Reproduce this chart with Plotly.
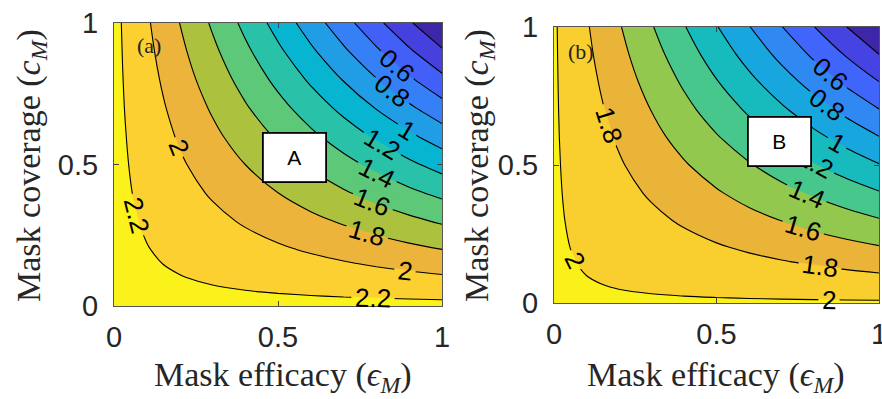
import math
import plotly.graph_objects as go

# Grid (mask efficacy eps_M on x, mask coverage c_M on y)
eps_grid = [0, 0.05, 0.1, 0.15, 0.2, 0.3, 0.4, 0.5, 0.6, 0.7, 0.8, 0.9, 1.0]
cov_grid = [0, 0.05, 0.1, 0.15, 0.2, 0.3, 0.4, 0.5, 0.6, 0.7, 0.8, 0.9, 1.0]

# Panel (a) values, rows = coverage, columns = efficacy
z_a = [
    [2.25, 2.25, 2.25, 2.25, 2.25, 2.25, 2.25, 2.25, 2.25, 2.25, 2.25, 2.25, 2.25],
    [2.25, 2.244, 2.239, 2.233, 2.228, 2.216, 2.205, 2.194, 2.183, 2.171, 2.16, 2.149, 2.138],
    [2.25, 2.239, 2.228, 2.216, 2.205, 2.183, 2.16, 2.138, 2.115, 2.093, 2.07, 2.048, 2.025],
    [2.25, 2.233, 2.216, 2.199, 2.183, 2.149, 2.115, 2.081, 2.048, 2.014, 1.98, 1.946, 1.913],
    [2.25, 2.228, 2.205, 2.183, 2.16, 2.115, 2.07, 2.025, 1.98, 1.935, 1.89, 1.845, 1.80],
    [2.25, 2.216, 2.183, 2.149, 2.115, 2.048, 1.98, 1.913, 1.845, 1.778, 1.71, 1.643, 1.575],
    [2.25, 2.205, 2.16, 2.115, 2.07, 1.98, 1.89, 1.80, 1.71, 1.62, 1.53, 1.44, 1.35],
    [2.25, 2.194, 2.138, 2.081, 2.025, 1.913, 1.80, 1.688, 1.575, 1.463, 1.35, 1.238, 1.125],
    [2.25, 2.183, 2.115, 2.048, 1.98, 1.845, 1.71, 1.575, 1.44, 1.305, 1.17, 1.035, 0.90],
    [2.25, 2.171, 2.093, 2.014, 1.935, 1.778, 1.62, 1.463, 1.305, 1.148, 0.99, 0.833, 0.675],
    [2.25, 2.16, 2.07, 1.98, 1.89, 1.71, 1.53, 1.35, 1.17, 0.99, 0.81, 0.63, 0.45],
    [2.25, 2.149, 2.048, 1.946, 1.845, 1.643, 1.44, 1.238, 1.035, 0.833, 0.63, 0.428, 0.225],
    [2.25, 2.138, 2.025, 1.913, 1.80, 1.575, 1.35, 1.125, 0.90, 0.675, 0.45, 0.225, 0.0],
]

# Panel (b) values
z_b = [
    [2.02, 2.02, 2.02, 2.02, 2.02, 2.02, 2.02, 2.02, 2.02, 2.02, 2.02, 2.02, 2.02],
    [2.02, 2.015, 2.01, 2.005, 1.9998, 1.99, 1.98, 1.97, 1.959, 1.949, 1.939, 1.929, 1.919],
    [2.02, 2.01, 1.9998, 1.99, 1.98, 1.959, 1.939, 1.919, 1.899, 1.879, 1.858, 1.838, 1.818],
    [2.02, 2.005, 1.99, 1.975, 1.959, 1.929, 1.899, 1.869, 1.838, 1.808, 1.778, 1.747, 1.717],
    [2.02, 1.9998, 1.98, 1.959, 1.939, 1.899, 1.858, 1.818, 1.778, 1.737, 1.697, 1.656, 1.616],
    [2.02, 1.99, 1.959, 1.929, 1.899, 1.838, 1.778, 1.717, 1.656, 1.596, 1.535, 1.475, 1.414],
    [2.02, 1.98, 1.939, 1.899, 1.858, 1.778, 1.697, 1.616, 1.535, 1.454, 1.374, 1.293, 1.212],
    [2.02, 1.97, 1.919, 1.869, 1.818, 1.717, 1.616, 1.515, 1.414, 1.313, 1.212, 1.111, 1.01],
    [2.02, 1.959, 1.899, 1.838, 1.778, 1.656, 1.535, 1.414, 1.293, 1.172, 1.05, 0.929, 0.808],
    [2.02, 1.949, 1.879, 1.808, 1.737, 1.596, 1.454, 1.313, 1.172, 1.03, 0.889, 0.747, 0.606],
    [2.02, 1.939, 1.858, 1.778, 1.697, 1.535, 1.374, 1.212, 1.05, 0.889, 0.727, 0.566, 0.404],
    [2.02, 1.929, 1.838, 1.747, 1.656, 1.475, 1.293, 1.111, 0.929, 0.747, 0.566, 0.384, 0.202],
    [2.02, 1.919, 1.818, 1.717, 1.616, 1.414, 1.212, 1.01, 0.808, 0.606, 0.404, 0.202, 0.0],
]

levels_a = dict(start=0.2, end=2.2, size=0.2)
levels_b = dict(start=0.2, end=2.0, size=0.2)

band_colors_a = ["#3e26a8", "#4640de", "#425ff7", "#357ff7", "#219de6", "#08b5d0",
                 "#29c2a9", "#5cc878", "#acc13e", "#ecb43a", "#fbd030", "#faf21a"]
band_colors_b = ["#3e26a8", "#4643e3", "#4065fa", "#3088f2", "#17a6dd", "#18bbbd",
                 "#47c78c", "#93c84e", "#eab438", "#f9ce2f", "#faf11b"]

# Contour label positions: (level, fixed axis, value on that axis)
labels_a = [(0.6, "x", 0.863), (0.8, "x", 0.848), (1.0, "x", 0.893), (1.2, "x", 0.817),
            (1.4, "x", 0.802), (1.6, "x", 0.787), (1.8, "x", 0.771), (2.0, "x", 0.887),
            (2.2, "x", 0.79), (2.0, "y", 0.562), (2.2, "y", 0.322)]
labels_b = [(0.6, "x", 0.849), (0.8, "x", 0.840), (1.0, "x", 0.871), (1.2, "x", 0.803),
            (1.4, "x", 0.778), (1.6, "x", 0.766), (1.8, "x", 0.818), (2.0, "x", 0.846),
            (1.8, "y", 0.645), (2.0, "y", 0.156)]

tick_vals = [0, 0.5, 1]
tick_text = ["0", "0.5", "1"]

W, H = 882, 399
PANEL_A = dict(x0=114, x1=442, ytop=23, ybot=306)
PANEL_B = dict(x0=554, x1=879, ytop=27, ybot=303)


def scale(colors):
    n = len(colors) - 1
    return [[k / n, c] for k, c in enumerate(colors)]


def seg(vals, v):
    for j in range(len(vals) - 1):
        if vals[j] <= v <= vals[j + 1]:
            return j, (v - vals[j]) / (vals[j + 1] - vals[j])
    return len(vals) - 2, 1.0


def bilin(z, x, y):
    j, tx = seg(eps_grid, x)
    i, ty = seg(cov_grid, y)
    return ((1 - tx) * (1 - ty) * z[i][j] + tx * (1 - ty) * z[i][j + 1]
            + (1 - tx) * ty * z[i + 1][j] + tx * ty * z[i + 1][j + 1])


def locate(z, level, axis, v):
    grid = cov_grid if axis == "x" else eps_grid
    f = (lambda s: bilin(z, v, s)) if axis == "x" else (lambda s: bilin(z, s, v))
    for k in range(len(grid) - 1):
        a, b = f(grid[k]) - level, f(grid[k + 1]) - level
        if a == 0:
            s = grid[k]
            break
        if a * b < 0:
            s = grid[k] + (grid[k + 1] - grid[k]) * a / (a - b)
            break
    else:
        return None
    return (v, s) if axis == "x" else (s, v)


fig = go.Figure()
for z, lv, cols, xa, ya in [(z_a, levels_a, band_colors_a, "x", "y"),
                            (z_b, levels_b, band_colors_b, "x2", "y2")]:
    fig.add_trace(go.Contour(
        x=eps_grid, y=cov_grid, z=z,
        autocontour=False,
        contours=dict(start=lv["start"], end=lv["end"], size=lv["size"],
                      coloring="fill", showlabels=False),
        colorscale=scale(cols), showscale=False,
        line=dict(color="black", width=1.1, smoothing=1.0),
        xaxis=xa, yaxis=ya, hoverinfo="skip",
    ))


def px(v):
    return v / W


def py(v):
    return 1 - v / H


axis_common = dict(range=[0, 1], tickvals=tick_vals, ticktext=tick_text,
                   ticks="inside", ticklen=5, tickcolor="#444", mirror="ticks",
                   showline=True, linecolor="#555", linewidth=1, showgrid=False,
                   zeroline=False, automargin=False, ticklabeloverflow="allow",
                   tickfont=dict(family="Liberation Sans", size=29, color="#262626"))

fig.update_layout(
    width=W, height=H, margin=dict(l=0, r=0, t=0, b=0),
    paper_bgcolor="white", plot_bgcolor="white",
    xaxis=dict(domain=[px(PANEL_A["x0"]), px(PANEL_A["x1"])], anchor="y",
               ticklabelstandoff=5, **axis_common),
    yaxis=dict(domain=[py(PANEL_A["ybot"]), py(PANEL_A["ytop"])], anchor="x",
               ticklabelstandoff=9, **axis_common),
    xaxis2=dict(domain=[px(PANEL_B["x0"]), px(PANEL_B["x1"])], anchor="y2",
                ticklabelstandoff=5, **axis_common),
    yaxis2=dict(domain=[py(PANEL_B["ybot"]), py(PANEL_B["ytop"])], anchor="x2",
                ticklabelstandoff=9, **axis_common),
    showlegend=False,
)

# Inline contour labels (line broken under the text, as in the original)
FS = 26
for z, labels, cols, lv, pan, xr, yr in [
        (z_a, labels_a, band_colors_a, levels_a, PANEL_A, "x", "y"),
        (z_b, labels_b, band_colors_b, levels_b, PANEL_B, "x2", "y2")]:
    sx = pan["x1"] - pan["x0"]
    sy = pan["ybot"] - pan["ytop"]
    for level, axis, v in labels:
        pos = locate(z, level, axis, v)
        if pos is None:
            continue
        ex, cy = pos
        h = 1e-4
        gx = (bilin(z, min(ex + h, 1), cy) - bilin(z, max(ex - h, 0), cy)) / (2 * h) / sx
        gy = (bilin(z, ex, min(cy + h, 1)) - bilin(z, ex, max(cy - h, 0))) / (2 * h) / sy
        tx, ty = gy, -gx
        if tx < 0:
            tx, ty = -tx, -ty
        alpha = math.degrees(math.atan2(-ty, tx))
        ar = math.radians(alpha)
        text = f"{level:g}"
        tw = sum(0.278 if ch == "." else 0.556 for ch in text) * FS
        bw = tw + 6
        hh = FS * 0.5
        idx = int(round((level - lv["start"]) / lv["size"]))
        low_col, high_col = cols[idx], cols[idx + 1]
        dist_bottom = cy * sy
        hh_high = max(2.0, min(hh, dist_bottom - 1.5))
        for col, hgt, sgn in [(low_col, hh, 1), (high_col, hh_high, -1)]:
            off = sgn * hgt / 2
            fig.add_annotation(xref=xr, yref=yr, x=ex, y=cy, text="&nbsp;",
                               showarrow=False, width=bw, height=hgt, borderpad=0,
                               bgcolor=col, textangle=alpha,
                               xshift=math.sin(ar) * off, yshift=math.cos(ar) * off,
                               font=dict(size=1))
        fig.add_annotation(xref=xr, yref=yr, x=ex, y=cy, text=text, showarrow=False,
                           textangle=alpha, borderpad=0,
                           font=dict(family="Liberation Sans", size=FS, color="black"))

serif = dict(family="Liberation Serif", size=34, color="#262626")
xtitle = "Mask efficacy (<i>ϵ</i><sub><i>M</i></sub>)"
ytitle = "Mask coverage (<i>c</i><sub><i>M</i></sub>)"
annots = [
    dict(x=px(283), y=py(377), text=xtitle),
    dict(x=px(716), y=py(377), text=xtitle),
    dict(x=px(31), y=py(166), text=ytitle, textangle=-90),
    dict(x=px(479), y=py(166), text=ytitle, textangle=-90),
]
for a in annots:
    fig.add_annotation(xref="paper", yref="paper", showarrow=False,
                       xanchor="center", yanchor="middle", font=serif, **a)

fig.add_annotation(xref="x", yref="y", x=0.107, y=0.92, text="(a)", showarrow=False,
                   font=dict(family="Liberation Serif", size=22, color="#222"))
fig.add_annotation(xref="x2", yref="y2", x=0.083, y=0.913, text="(b)", showarrow=False,
                   font=dict(family="Liberation Serif", size=22, color="#222"))

# White callout boxes
for xr, yr, xc, yc, t in [("x", "y", 0.5515, 0.5245, "A"),
                          ("x2", "y2", 0.694, 0.585, "B")]:
    fig.add_annotation(xref=xr, yref=yr, x=xc, y=yc, text=t, showarrow=False,
                       width=61, height=47, borderpad=0, borderwidth=1.8,
                       bordercolor="black", bgcolor="white",
                       font=dict(family="Liberation Sans", size=21, color="black"))

fig.write_html("out.html", config={"displayModeBar": False},
               post_script="document.body.style.margin='0';document.body.style.overflow='hidden';")
